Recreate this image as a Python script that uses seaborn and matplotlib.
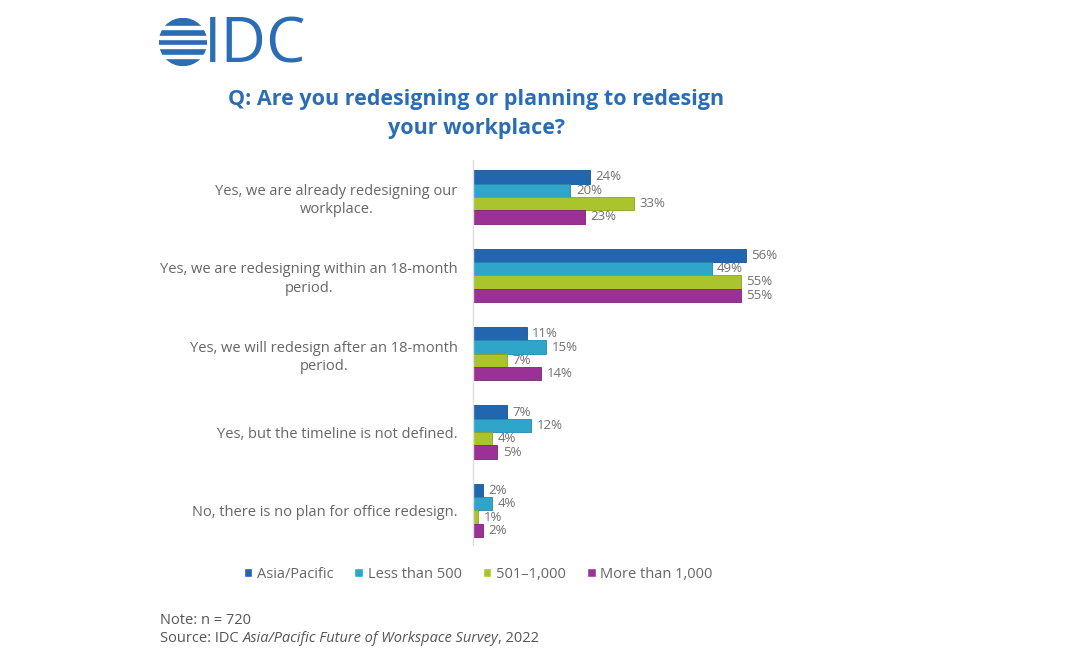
import pandas as pd
import seaborn as sns
import matplotlib.pyplot as plt
from matplotlib.patches import Circle

categories = [
    "Yes, we are already redesigning our\nworkplace.",
    "Yes, we are redesigning within an 18-month\nperiod.",
    "Yes, we will redesign after an 18-month\nperiod.",
    "Yes, but the timeline is not defined.",
    "No, there is no plan for office redesign.",
]
groups = ["Asia/Pacific", "Less than 500", "501\u20131,000", "More than 1,000"]
asia_pacific = [24, 56, 11, 7, 2]
less_than_500 = [20, 49, 15, 12, 4]
mid_501_1000 = [33, 55, 7, 4, 1]
more_than_1000 = [23, 55, 14, 5, 2]

colors = ["#2166ae", "#2fa6c9", "#a9c42d", "#9b3195"]
edge_colors = ["#17538f", "#238aa8", "#8aa321", "#7a2476"]
blue = "#2a6db5"
grey = "#666666"

rows = []
for g, vals in zip(groups, [asia_pacific, less_than_500, mid_501_1000, more_than_1000]):
    for c, v in zip(categories, vals):
        rows.append({"question": c, "group": g, "pct": v})
df = pd.DataFrame(rows)

sns.set_style("white")
plt.rcParams["font.family"] = ["Open Sans", "DejaVu Sans"]

fig = plt.figure(figsize=(10.8, 6.6), dpi=100)
ax = fig.add_axes([473 / 1080, 1 - 545 / 660, 487 / 1080, 385 / 660])

sns.barplot(data=df, y="question", x="pct", hue="group", order=categories,
            hue_order=groups, palette=colors, orient="h", width=0.68,
            saturation=1, ax=ax)

for cont, ec in zip(ax.containers, edge_colors):
    for bar in cont:
        bar.set_edgecolor(ec)
        bar.set_linewidth(0.6)
    ax.bar_label(cont, fmt="%d%%", padding=4, color="#707070", fontsize=9.5)

ax.set_xlim(0, 100)
ax.set_ylim(4.44, -0.47)
ax.set_xlabel("")
ax.set_ylabel("")
ax.set_xticks([])
ax.tick_params(axis="y", length=0, pad=11, labelsize=10.5, labelcolor=grey)
for t in ax.get_yticklabels():
    t.set_multialignment("center")
    t.set_linespacing(1.3)
for s in ["top", "right", "bottom"]:
    ax.spines[s].set_visible(False)
ax.spines["left"].set_color("#dddddd")
ax.spines["left"].set_linewidth(1)

handles, labels = ax.get_legend_handles_labels()
ax.get_legend().remove()
leg = fig.legend(handles, labels, ncol=4, frameon=False, loc="center",
                 bbox_to_anchor=(478 / 1080, 1 - 574 / 660), fontsize=10.5,
                 handlelength=0.6, handleheight=0.6, handletextpad=0.3,
                 columnspacing=1.45)
for t in leg.get_texts():
    t.set_color(grey)

# title
fig.text(476 / 1080, 1 - 114 / 660, "Q: Are you redesigning or planning to redesign\nyour workplace?",
         ha="center", va="center", fontsize=15.5, fontweight="bold", color=blue,
         linespacing=1.55)

# logo
fig.text(204 / 1080, 1 - 46 / 660, "IDC", ha="left", va="center", fontsize=45,
         color=blue)
lax = fig.add_axes([159 / 1080, 1 - 66 / 660, 48 / 1080, 48 / 660])
lax.set_xlim(-1, 1)
lax.set_ylim(-1, 1)
lax.axis("off")
lax.add_patch(Circle((0, 0), 0.98, color=blue))
for y in [-0.62, -0.2, 0.2, 0.62]:
    lax.axhspan(y - 0.06, y + 0.06, color="white")

# notes
fig.text(160 / 1080, 1 - 620 / 660, "Note: n = 720", fontsize=10.5, color="#555555",
         va="center")
t1 = fig.text(160 / 1080, 1 - 639 / 660, "Source: IDC ", fontsize=10.5,
              color="#555555", va="center")
fig.canvas.draw()
r = fig.canvas.get_renderer()
bb = t1.get_window_extent(r).transformed(fig.transFigure.inverted())
t2 = fig.text(bb.x1, 1 - 639 / 660, "Asia/Pacific Future of Workspace Survey",
              fontsize=10.5, color="#555555", style="italic", va="center")
fig.canvas.draw()
bb2 = t2.get_window_extent(r).transformed(fig.transFigure.inverted())
fig.text(bb2.x1, 1 - 639 / 660, ", 2022", fontsize=10.5, color="#555555",
         va="center")

fig.savefig("out.png", dpi=100)
